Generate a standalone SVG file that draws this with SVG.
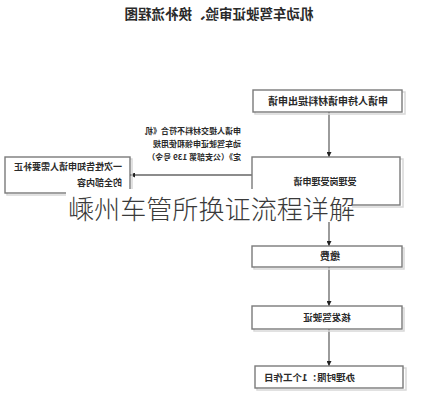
<svg xmlns="http://www.w3.org/2000/svg" width="426" height="400" viewBox="0 0 426 400">
<style>
.box{fill:#fff;stroke:#7a7a7a;stroke-width:1.4}
.sh{fill:none;stroke:#d8d8d8;stroke-width:1.5}
.t{font-family:"Noto Sans CJK SC","Noto Sans",sans-serif;font-weight:bold;fill:#2a2a2a}
.ln{stroke:#666;stroke-width:1.3;fill:none}
.wm{font-family:"Noto Sans CJK SC","Noto Sans",sans-serif;font-size:26px;font-weight:300;fill:#3a3a3a}
</style>
<defs>
<marker id="ah" viewBox="0 0 6 6" refX="6" refY="3" markerWidth="5" markerHeight="5" orient="auto" markerUnits="userSpaceOnUse">
<path d="M0,0 L6,3 L0,6 z" fill="#222"/>
</marker>
</defs>
<rect width="426" height="400" fill="#fff"/>
<g id="title">
<text class="t" transform="scale(-1,1)" x="-219" y="19" font-size="13.5" text-anchor="middle">机动车驾驶证审验、换补流程图</text>
</g>
<g id="connectors">
<line class="ln" x1="329" y1="112" x2="329" y2="157" marker-end="url(#ah)"/>
<line class="ln" x1="252" y1="175" x2="130" y2="175" marker-end="url(#ah)"/>
<line class="ln" x1="329" y1="205" x2="329" y2="246" marker-end="url(#ah)"/>
<line class="ln" x1="329" y1="267" x2="329" y2="306" marker-end="url(#ah)"/>
<line class="ln" x1="329" y1="329" x2="329" y2="366" marker-end="url(#ah)"/>
</g>
<g id="n1">
<rect class="sh" x="255" y="92" width="150" height="22"/>
<rect class="box" x="253" y="90" width="149" height="22"/>
<text class="t" transform="scale(-1,1)" x="-328" y="105" font-size="10" text-anchor="middle">申请人持申请材料提出申请</text>
</g>
<g id="note">
<text class="t" transform="scale(-1,1)" x="-241" y="134" font-size="8">申请人提交材料不符合《机</text>
<text class="t" transform="scale(-1,1)" x="-241" y="147" font-size="8">动车驾驶证申领和使用规</text>
<text class="t" transform="scale(-1,1)" x="-241" y="160" font-size="8">定》（公安部第 139 号令）</text>
</g>
<g id="n2">
<rect class="sh" x="254" y="159" width="149" height="48"/>
<rect class="box" x="252" y="157" width="148" height="48"/>
<text class="t" transform="scale(-1,1)" x="-325" y="185" font-size="9" text-anchor="middle">受理岗受理申请</text>
</g>
<g id="n6">
<rect class="sh" x="7" y="159" width="125" height="36"/>
<rect class="box" x="5" y="157" width="125" height="36"/>
<text class="t" transform="scale(-1,1)" x="-122" y="170" font-size="9">一次性告知申请人需要补正</text>
<text class="t" transform="scale(-1,1)" x="-122" y="186" font-size="9">的全部内容</text>
</g>
<g id="n3">
<rect class="sh" x="254" y="248" width="150" height="21"/>
<rect class="box" x="252" y="246" width="150" height="21"/>
<text class="t" transform="scale(-1,1)" x="-330" y="260" font-size="10" text-anchor="middle">缴费</text>
</g>
<g id="n4">
<rect class="sh" x="254" y="308" width="150" height="23"/>
<rect class="box" x="252" y="306" width="150" height="23"/>
<text class="t" transform="scale(-1,1)" x="-327" y="321" font-size="9.5" text-anchor="middle">核发驾驶证</text>
</g>
<g id="n5">
<rect class="sh" x="257" y="368" width="149" height="22"/>
<rect class="box" x="255" y="366" width="148" height="22"/>
<text class="t" transform="scale(-1,1)" x="-355" y="381" font-size="9.5">办理时限：1个工作日</text>
</g>
<g id="watermark">
<rect x="66" y="189" width="286" height="33" fill="#fff"/>
<text class="wm" x="68" y="219" textLength="287" lengthAdjust="spacingAndGlyphs">嵊州车管所换证流程详解</text>
</g>
</svg>
